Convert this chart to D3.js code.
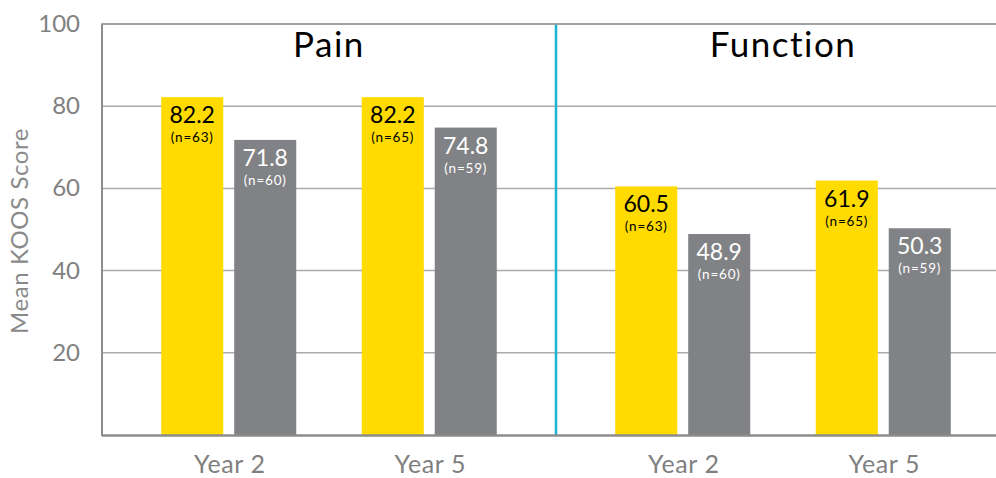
<!DOCTYPE html>
<html>
<head>
<meta charset="utf-8">
<script src="https://cdn.jsdelivr.net/npm/d3@7"></script>
<style>
  body { margin: 0; background: #fff; }
  svg { display: block; font-family: "Lato", "Open Sans", sans-serif; }
</style>
</head>
<body>
<svg id="chart" width="996" height="478"></svg>
<script>
const panels = ["Pain", "Function"];
const years = ["Year 2", "Year 5"];
const seriesKeys = ["A", "B"];
const painA = [82.2, 82.2];
const painB = [71.8, 74.8];
const functionA = [60.5, 61.9];
const functionB = [48.9, 50.3];
const painNA = ["(n=63)", "(n=65)"];
const painNB = ["(n=60)", "(n=59)"];
const functionNA = ["(n=63)", "(n=65)"];
const functionNB = ["(n=60)", "(n=59)"];
const yTicks = [20, 40, 60, 80, 100];

const colors = { A: "#FFDB00", B: "#818285" };
const textColors = { A: "#000", B: "#fff" };

const panelData = [
  { name: "Pain", A: painA, B: painB, nA: painNA, nB: painNB },
  { name: "Function", A: functionA, B: functionB, nA: functionNA, nB: functionNB }
];

const svg = d3.select("#chart");
const mLeft = 102, mTop = 24, mBottom = 435, mRight = 996, divider = 556, farRight = 1010;

const y = d3.scaleLinear().domain([0, 100]).range([mBottom, mTop]);
const panelScale = d3.scaleOrdinal().domain(panels).range([[mLeft, divider], [divider, farRight]]);
const inner = d3.scaleBand().domain(seriesKeys).range([-67.5, 67.5]).paddingInner(0.15).paddingOuter(0);

// gridlines
svg.append("g").selectAll("line").data(yTicks).join("line")
  .attr("x1", mLeft).attr("x2", mRight)
  .attr("y1", d => y(d)).attr("y2", d => y(d))
  .attr("stroke", "#ababab").attr("stroke-width", 1.5);

// y tick labels
svg.append("g").selectAll("text").data(yTicks).join("text")
  .attr("x", 80).attr("y", d => y(d) + 8)
  .attr("text-anchor", "end")
  .attr("fill", "#808080")
  .attr("font-size", 24)
  .text(d => d);

// y title
svg.append("text")
  .attr("transform", "translate(28,231) rotate(-90)")
  .attr("text-anchor", "middle")
  .attr("fill", "#8a8a8a")
  .attr("font-size", 24)
  .attr("letter-spacing", 0.6)
  .text("Mean KOOS Score");

panelData.forEach(p => {
  const [x0, x1] = panelScale(p.name);
  const xs = d3.scalePoint().domain(years).range([x0, x1]).padding(0.632);
  const g = svg.append("g");

  g.append("text")
    .attr("x", (x0 + x1) / 2).attr("y", 57)
    .attr("text-anchor", "middle")
    .attr("fill", "#000")
    .attr("font-size", 35)
    .attr("letter-spacing", 1.5)
    .text(p.name);

  years.forEach((yr, i) => {
    const cx = xs(yr);
    seriesKeys.forEach(k => {
      const v = p[k][i];
      const bx = cx + inner(k);
      const bw = inner.bandwidth();
      g.append("rect")
        .attr("x", bx).attr("y", y(v))
        .attr("width", bw).attr("height", y(0) - y(v))
        .attr("fill", colors[k]);
      g.append("text")
        .attr("x", bx + bw / 2).attr("y", y(v) + 26)
        .attr("text-anchor", "middle")
        .attr("fill", textColors[k])
        .attr("font-size", 23)
        .text(v.toFixed(1));
      g.append("text")
        .attr("x", bx + bw / 2).attr("y", y(v) + 45)
        .attr("text-anchor", "middle")
        .attr("fill", textColors[k])
        .attr("font-size", 13.5)
        .attr("letter-spacing", 0.8)
        .text(p["n" + k][i]);
    });
    g.append("text")
      .attr("x", cx + 1).attr("y", 473)
      .attr("text-anchor", "middle")
      .attr("fill", "#808080")
      .attr("font-size", 25)
      .attr("letter-spacing", 0.6)
      .text(yr);
  });
});

svg.append("line")
  .attr("x1", divider).attr("x2", divider)
  .attr("y1", mTop).attr("y2", mBottom)
  .attr("stroke", "#1AB5D1").attr("stroke-width", 2.5);

svg.append("line")
  .attr("x1", mLeft).attr("x2", mLeft).attr("y1", mTop - 0.5).attr("y2", mBottom + 1)
  .attr("stroke", "#8c8c8c").attr("stroke-width", 2);
svg.append("line")
  .attr("x1", mLeft).attr("x2", mRight).attr("y1", mBottom + 0.5).attr("y2", mBottom + 0.5)
  .attr("stroke", "#8c8c8c").attr("stroke-width", 2.5);
svg.append("line")
  .attr("x1", mLeft).attr("x2", mRight).attr("y1", mTop).attr("y2", mTop)
  .attr("stroke", "#999").attr("stroke-width", 1.5);
</script>
</body>
</html>
